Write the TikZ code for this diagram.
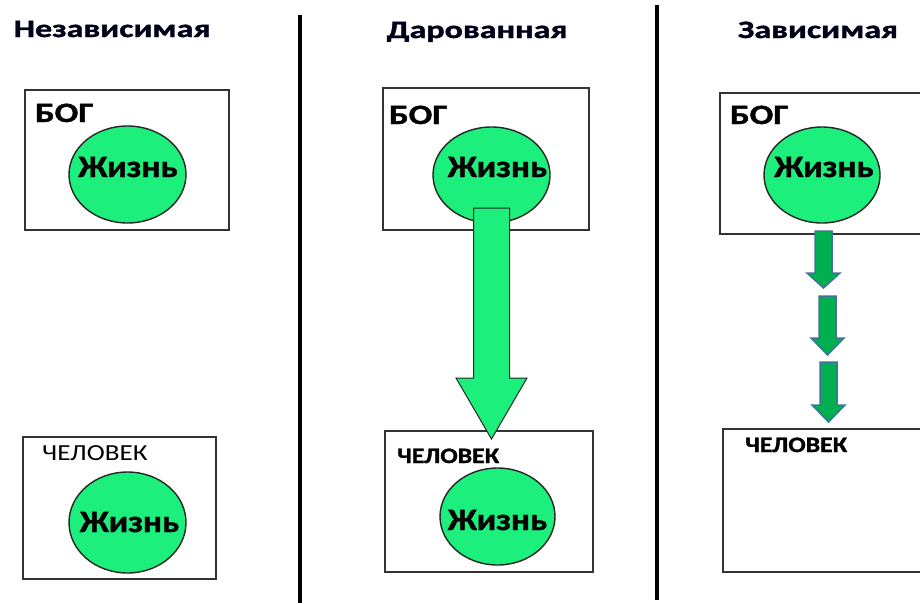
\documentclass[tikz,border=0pt]{standalone}
\usepackage{fontspec}
\setmainfont{Carlito}[BoldFeatures={FakeBold=1.2}]
\usetikzlibrary{shapes.geometric}
\definecolor{lifegreen}{RGB}{28,239,124}
\definecolor{arrowgreen}{RGB}{0,176,80}
\definecolor{arrowedge}{RGB}{65,113,156}
\newcommand\hs[2]{\scalebox{#1}[1]{#2}}
\newcommand\blockarrow[7]{\draw[#1] (#2-#6,#3) -- (#2+#6,#3) -- (#2+#6,#4) -- (#2+#7,#4) -- (#2,#5) -- (#2-#7,#4) -- (#2-#6,#4) -- cycle;}
\begin{document}
\begin{tikzpicture}[x=1pt,y=-1pt,
  box/.style={draw=black!80, line width=1.6pt, fill=white, rectangle, inner sep=0pt},
  life/.style={ellipse, draw=black!85, line width=1.4pt, fill=lifegreen, inner sep=0pt},
  lifetext/.style={font=\bfseries\fontsize{31}{31}\selectfont, inner sep=0pt, anchor=base},
  title/.style={font=\bfseries\fontsize{25}{25}\selectfont, inner sep=0pt, anchor=base, text=black!90!blue},
  godlabel/.style={font=\bfseries\fontsize{28}{28}\selectfont, anchor=base west, inner sep=0pt},
  manlabel/.style={font=\fontsize{23}{23}\selectfont, anchor=base west, inner sep=0pt},
  manlabelb/.style={font=\bfseries\fontsize{22}{22}\selectfont, anchor=base west, inner sep=0pt},
  divider/.style={line width=3.5pt},
  bigarrow/.style={draw=black!85, line width=1pt, fill=lifegreen},
  smallarrow/.style={draw=arrowedge, line width=1.5pt, fill=arrowgreen}]
\useasboundingbox (0,0) rectangle (920,603);
\clip (0,0) rectangle (920,603);

% titles
\node[title] (t1) at (112,37) {\hs{1.36}{Независимая}};
\node[title] (t2) at (477,38) {\hs{1.36}{Дарованная}};
\node[title] (t3) at (818,38) {\hs{1.36}{Зависимая}};

% dividers
\coordinate (d1a) at (300,15); \coordinate (d1b) at (300,603);
\coordinate (d2a) at (657,5); \coordinate (d2b) at (657,600);
\draw[divider] (d1a) -- (d1b);
\draw[divider] (d2a) -- (d2b);

% column 1
\node[box, minimum width=204pt, minimum height=140pt] (bog1) at (127,160) {};
\node[godlabel] (bl1) at (35,122) {\hs{1.25}{БОГ}};
\node[life, minimum width=117pt, minimum height=97pt] (life1) at (127.5,174.5) {};
\node[lifetext] (lt1) at (128,177) {\hs{1.12}{Жизнь}};
\node[box, minimum width=193pt, minimum height=142pt] (man1) at (119.5,508) {};
\node[manlabel] (ml1) at (42,460) {\hs{1.18}{ЧЕЛОВЕК}};
\node[life, minimum width=117pt, minimum height=101pt] (life1b) at (127.5,522.5) {};
\node[lifetext] (lt1b) at (129.5,532) {\hs{1.12}{Жизнь}};

% column 2
\node[box, minimum width=206pt, minimum height=142pt] (bog2) at (486,159) {};
\node[godlabel] (bl2) at (389,124) {\hs{1.25}{БОГ}};
\node[life, minimum width=117pt, minimum height=96pt] (life2) at (491.5,175) {};
\node[lifetext] (lt2) at (497.5,177) {\hs{1.12}{Жизнь}};
\node[box, minimum width=208pt, minimum height=141pt] (man2) at (489,501.5) {};
\node[manlabelb] (ml2) at (397,463) {\hs{1.17}{ЧЕЛОВЕК}};
\node[life, minimum width=115pt, minimum height=97pt] (life2b) at (497.5,516.5) {};
\node[lifetext] (lt2b) at (497.5,530) {\hs{1.12}{Жизнь}};
\blockarrow{bigarrow}{491.5}{208}{378}{439}{18}{35.5}

% column 3
\node[box, minimum width=220pt, minimum height=141pt] (bog3) at (830,163.5) {};
\node[godlabel] (bl3) at (730,124) {\hs{1.25}{БОГ}};
\node[life, minimum width=116pt, minimum height=96pt] (life3) at (822,175) {};
\node[lifetext] (lt3) at (824,177) {\hs{1.12}{Жизнь}};
\node[box, minimum width=217pt, minimum height=143pt] (man3) at (831.5,500.5) {};
\node[manlabelb] (ml3) at (745,452) {\hs{1.17}{ЧЕЛОВЕК}};
\blockarrow{smallarrow}{823.5}{231}{273}{288}{8.5}{16.5}
\blockarrow{smallarrow}{827.5}{296}{338}{355}{8.5}{16.5}
\blockarrow{smallarrow}{828.5}{362}{405}{422}{8.5}{16.5}
\end{tikzpicture}
\end{document}
